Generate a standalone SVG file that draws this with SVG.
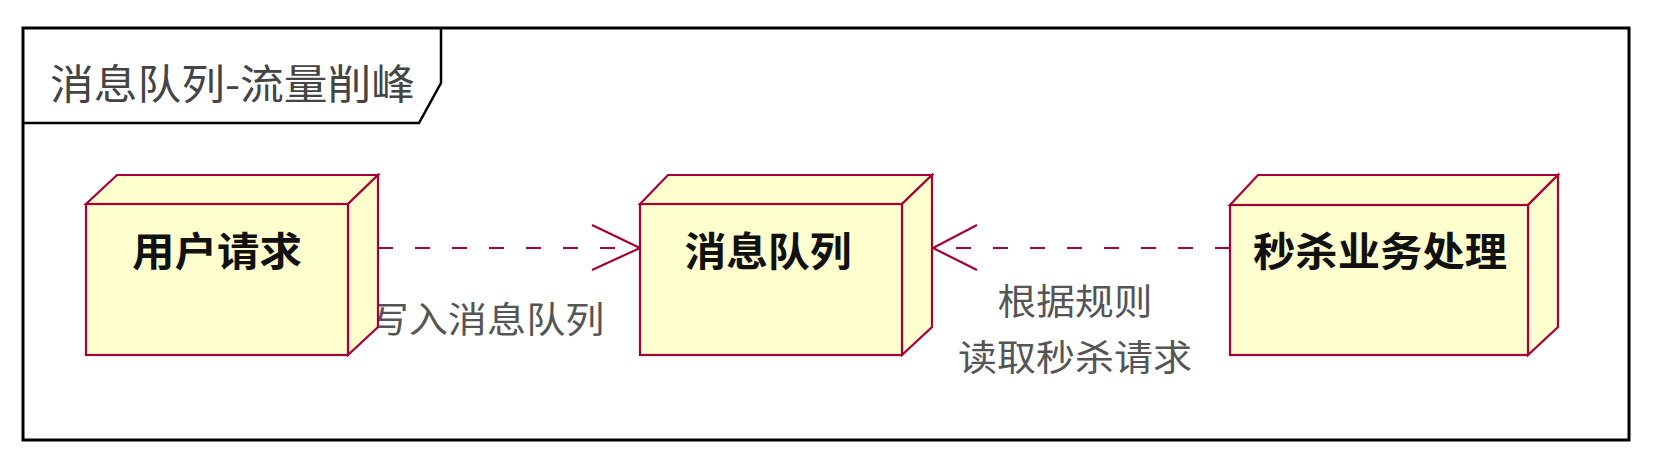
<svg xmlns="http://www.w3.org/2000/svg" width="1660" height="464" viewBox="0 0 1660 464">
<style>
.frame{fill:#fff;stroke:#000;stroke-width:3}
.tab{fill:none;stroke:#000;stroke-width:2.5}
.title{font-family:"Noto Sans CJK SC",sans-serif;font-size:41px;fill:#444}
.face{fill:#FEFECE;stroke:#A80036;stroke-width:2.2;stroke-linejoin:miter}
.ntext{font-family:"Noto Sans CJK SC",sans-serif;font-weight:bold;font-size:40px;fill:#111;text-anchor:middle}
.conn{fill:none;stroke:#A80036;stroke-width:2.2;stroke-dasharray:15 22}
.head{fill:none;stroke:#A80036;stroke-width:2.2}
.lbl{font-family:"Noto Sans CJK SC",sans-serif;font-size:36px;fill:#555;text-anchor:middle}
</style>
<rect class="frame" x="23" y="28" width="1606" height="412"/>
<path class="tab" d="M23,123 L419,123 L441,83 L441,28"/>
<text class="title" x="50" y="99" textLength="365" lengthAdjust="spacingAndGlyphs">消息队列-流量削峰</text>
<g id="connectors">
<g id="c1">
<line class="conn" x1="378" y1="248" x2="638" y2="248"/>
<polyline class="head" points="592,225 640,248 592,270"/>
<text class="lbl" x="487" y="333" textLength="235" lengthAdjust="spacingAndGlyphs">写入消息队列</text>
</g>
<g id="c2">
<line class="conn" x1="1230" y1="248" x2="935" y2="248"/>
<polyline class="head" points="977,225 933,248 977,270"/>
<text class="lbl" x="1075" y="315" textLength="155" lengthAdjust="spacingAndGlyphs">根据规则</text>
<text class="lbl" x="1075" y="371" textLength="234" lengthAdjust="spacingAndGlyphs">读取秒杀请求</text>
</g>
</g>
<g id="node-user">
<path class="face" d="M86,204 L117,175 L378,175 L348,204 Z"/>
<path class="face" d="M348,204 L378,175 L378,327 L348,355 Z"/>
<rect class="face" x="86" y="204" width="262" height="151"/>
<text class="ntext" x="217" y="266" textLength="170" lengthAdjust="spacingAndGlyphs">用户请求</text>
</g>
<g id="node-mq">
<path class="face" d="M640,204 L668,175 L932,175 L902,204 Z"/>
<path class="face" d="M902,204 L932,175 L932,327 L902,355 Z"/>
<rect class="face" x="640" y="204" width="262" height="151"/>
<text class="ntext" x="768" y="266" textLength="167" lengthAdjust="spacingAndGlyphs">消息队列</text>
</g>
<g id="node-seckill">
<path class="face" d="M1230,205 L1258,175 L1558,175 L1528,205 Z"/>
<path class="face" d="M1528,205 L1558,175 L1558,327 L1528,355 Z"/>
<rect class="face" x="1230" y="205" width="298" height="150"/>
<text class="ntext" x="1380" y="266" textLength="254" lengthAdjust="spacingAndGlyphs">秒杀业务处理</text>
</g>
</svg>
